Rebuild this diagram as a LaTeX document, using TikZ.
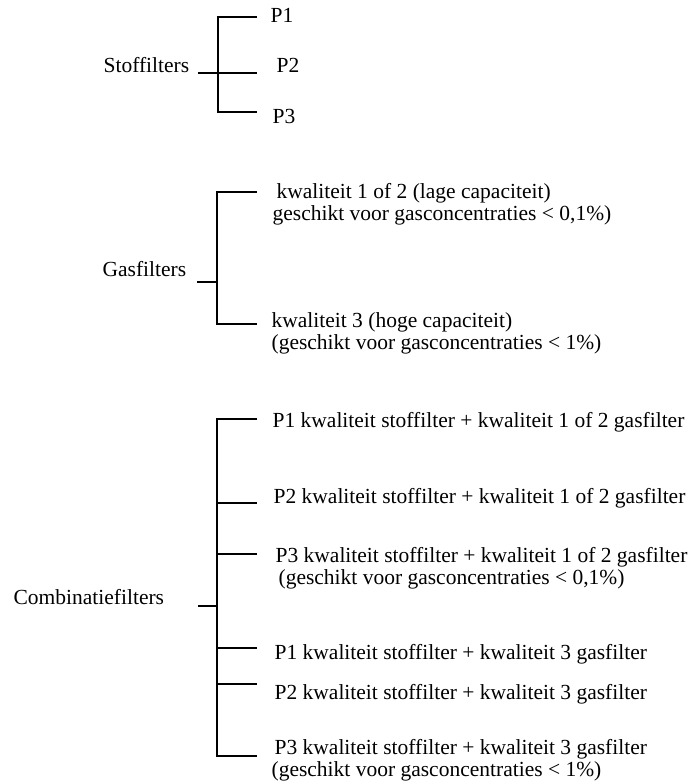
\documentclass[tikz,border=0pt]{standalone}
\usepackage{fontspec}
\setmainfont{Liberation Serif}[Ligatures=NoCommon]
\begin{document}
\begin{tikzpicture}[x=1pt,y=-1pt,line width=1.2pt,
  t/.style={anchor=base west,inner sep=0pt,font=\fontsize{21.5}{23}\selectfont}]
\useasboundingbox (0,0) rectangle (688,784);
% Stoffilters
\path (103,73) node[t] (stof) {Stoffilters}
 (270,23) node[t] (s1) {P1} (276,73) node[t] (s2) {P2} (272,123) node[t] (s3) {P3};
\path (198,73) coordinate (sa) ++(20,0) coordinate (sj);
\foreach \n/\y in {1/17,2/73,3/112} \coordinate (sk\n) at (257,\y);
\draw (sa) -- (sj) (sk1) -| (sj |- sk3) -- (sk3) (sj) -- (sk2);
% Gasfilters
\path (102,276) node[t] (gas) {Gasfilters}
 (276,198) node[t] (g1) {kwaliteit 1 of 2 (lage capaciteit)}
 (272,220) node[t] (g1b) {geschikt voor gasconcentraties < 0,1\%)}
 (271,327) node[t] (g2) {kwaliteit 3 (hoge capaciteit)}
 (271,349) node[t] (g2b) {(geschikt voor gasconcentraties < 1\%)};
\path (197,282) coordinate (ga) ++(20,0) coordinate (gj);
\coordinate (gk1) at (257,192); \coordinate (gk2) at (257,324);
\draw (ga) -- (gj) (gk1) -| (gj |- gk2) -- (gk2);
% Combinatiefilters
\node[t] (comb) at (13,604) {Combinatiefilters};
\foreach \n/\x/\y/\p/\q in {1/272/427/P1/1 of 2,2/273/503/P2/1 of 2,3/275/562/P3/1 of 2,
  4/274/659/P1/3,5/274/699/P2/3,6/274/754/P3/3}
  \node[t] (c\n) at (\x,\y) {\p{} kwaliteit stoffilter + kwaliteit \q{} gasfilter};
\node[t] (c3b) at (278,584) {(geschikt voor gasconcentraties < 0,1\%)};
\node[t] (c6b) at (271,776) {(geschikt voor gasconcentraties < 1\%)};
\path (198,606) coordinate (ca) ++(19,0) coordinate (cj);
\foreach \n/\y in {1/419,2/503,3/554,4/648,5/684,6/756} \coordinate (ck\n) at (257,\y);
\draw (ca) -- (cj) (ck1) -| (cj |- ck6) -- (ck6);
\foreach \n in {2,...,5} \draw (cj |- ck\n) -- (ck\n);
\end{tikzpicture}
\end{document}
